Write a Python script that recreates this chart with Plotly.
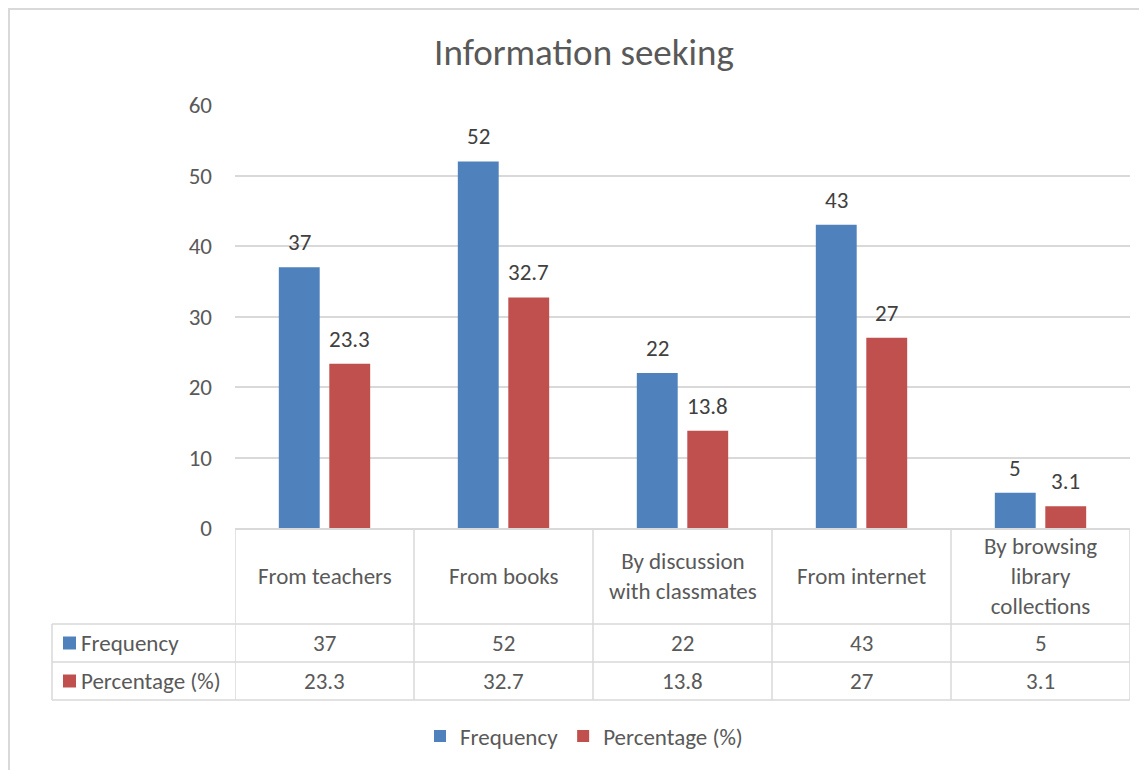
import plotly.graph_objects as go

categories = ["From teachers", "From books", "By discussion with classmates",
              "From internet", "By browsing library collections"]
header_labels = ["From teachers", "From books", "By discussion<br>with classmates",
                 "From internet", "By browsing<br>library<br>collections"]
frequency = [37, 52, 22, 43, 5]
percentage = [23.3, 32.7, 13.8, 27, 3.1]
series_names = ["Frequency", "Percentage (%)"]
y_ticks = [0, 10, 20, 30, 40, 50, 60]

BLUE = "#4F81BD"
RED = "#C0504D"
GRID = "#D9D9D9"
FONT = "Carlito, Calibri, Lato, sans-serif"

# page puts the figure 8px in from the top-left corner
OFF = 8
W, H = 1147 - OFF, 770 - OFF
L, R, T, B = 235 - OFF, 1147 - 1130, 105 - OFF, 770 - 528
PW, PH = W - L - R, H - T - B


def xp(px):
    # screen pixel -> paper x
    return (px - OFF - L) / PW


def yp(py):
    # screen pixel -> paper y
    return (H - B - (py - OFF)) / PH


fig = go.Figure()
for name, vals, color in [(series_names[0], frequency, BLUE), (series_names[1], percentage, RED)]:
    fig.add_trace(go.Bar(
        x=categories, y=vals, name=name,
        marker=dict(color=color, line=dict(width=0)),
    ))

shapes = []
annotations = []
line = dict(color=GRID, width=1.5)

# data labels above bars (Excel leaves a bigger gap than plotly's outside text)
slot = PW / 5 * (1 - 0.436) / 2
for vals, dx in [(frequency, -slot / 2), (percentage, slot / 2)]:
    for cat, v in zip(categories, vals):
        annotations.append(dict(x=cat, y=v, xref="x", yref="y", text=str(v), showarrow=False,
                                xshift=dx, yshift=9, yanchor="bottom",
                                font=dict(size=23, color="#404040", family=FONT)))

# table grid
row_top, row1, row2, row3 = 528, 624, 662, 700
for i in range(6):
    shapes.append(dict(type="line", xref="x", yref="paper", x0=i - 0.5, x1=i - 0.5,
                       y0=yp(row_top), y1=yp(row3), line=line))
shapes.append(dict(type="line", xref="paper", yref="paper", x0=xp(52), x1=xp(52),
                   y0=yp(row1), y1=yp(row3), line=line))
for r in (row1, row2, row3):
    shapes.append(dict(type="line", xref="paper", yref="paper", x0=xp(52), x1=1,
                       y0=yp(r), y1=yp(r), line=line))

# outer chart border (only left and top edges visible)
shapes.append(dict(type="rect", xref="paper", yref="paper", x0=xp(OFF + 1), x1=xp(1147 + 20),
                   y0=yp(770 + 20), y1=yp(OFF + 1), line=dict(color=GRID, width=2)))

txt = dict(size=23, color="#595959", family=FONT)
for i, lab in enumerate(header_labels):
    annotations.append(dict(x=i, y=yp((row_top + row1) / 2), xref="x", yref="paper",
                            text=lab, showarrow=False, font=txt, yanchor="middle"))
    annotations.append(dict(x=i, y=yp((row1 + row2) / 2), xref="x", yref="paper",
                            text=str(frequency[i]), showarrow=False, font=txt, yanchor="middle"))
    annotations.append(dict(x=i, y=yp((row2 + row3) / 2), xref="x", yref="paper",
                            text=str(percentage[i]), showarrow=False, font=txt, yanchor="middle"))

for name, color, (ya, yb) in [(series_names[0], BLUE, (row1, row2)), (series_names[1], RED, (row2, row3))]:
    yc = (ya + yb) / 2
    shapes.append(dict(type="rect", xref="paper", yref="paper", x0=xp(63), x1=xp(76),
                       y0=yp(yc + 6.5), y1=yp(yc - 6.5), fillcolor=color, line=dict(width=0)))
    annotations.append(dict(x=xp(79), y=yp(yc), xref="paper", yref="paper", text=name,
                            showarrow=False, font=txt, xanchor="left", yanchor="middle"))

fig.update_layout(
    width=W, height=H,
    margin=dict(l=L, r=R, t=T, b=B),
    paper_bgcolor="white", plot_bgcolor="white",
    font=dict(family=FONT, color="#595959"),
    title=dict(text="Information seeking", x=(584 - OFF) / W, xanchor="center",
               y=1 - (52 - OFF) / H, yanchor="middle", font=dict(size=37, color="#595959", family=FONT)),
    barmode="group", bargap=0.436, bargroupgap=0.19,
    xaxis=dict(range=[-0.5, 4.5], showticklabels=False, showline=True, linecolor=GRID,
               linewidth=1.5, showgrid=False, zeroline=False, fixedrange=True),
    yaxis=dict(range=[0, 60], tickvals=y_ticks, showgrid=True, gridcolor=GRID, gridwidth=1.5,
               zeroline=False, showline=False, tickfont=dict(size=23, color="#595959", family=FONT),
               ticklabelstandoff=22),
    legend=dict(orientation="h", xref="container", yref="container", x=(584 - OFF) / W,
                y=1 - (736 - OFF) / H, xanchor="center", yanchor="middle",
                font=dict(size=23, color="#595959", family=FONT),
                itemwidth=30, traceorder="normal"),
    shapes=shapes, annotations=annotations,
)

fig.write_html("out.html")
